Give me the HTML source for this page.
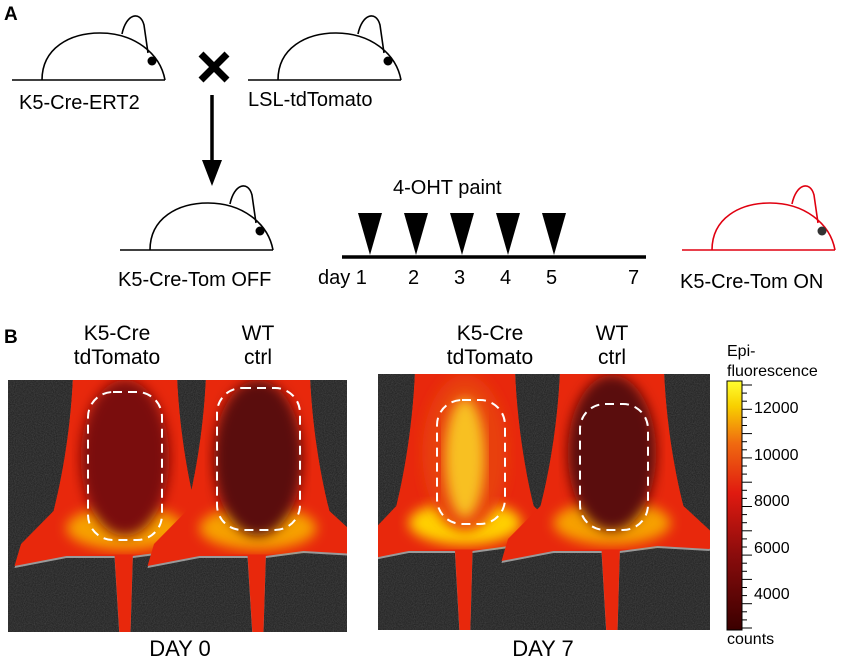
<!DOCTYPE html>
<html><head><meta charset="utf-8"><style>
body{margin:0;background:#fff;width:850px;height:660px;overflow:hidden}
svg text{font-family:"Liberation Sans",Arial,sans-serif}
</style></head><body>
<svg id="s" width="850" height="660" viewBox="0 0 850 660" xmlns="http://www.w3.org/2000/svg">
<defs>
<linearGradient id="cb" x1="0" y1="1" x2="0" y2="0">
<stop offset="0" stop-color="#3a0000"/><stop offset="0.3" stop-color="#8a0c0c"/>
<stop offset="0.55" stop-color="#e01a10"/><stop offset="0.75" stop-color="#f06a10"/>
<stop offset="0.9" stop-color="#f8d000"/><stop offset="1" stop-color="#ffff30"/></linearGradient>
<filter id="bl"><feGaussianBlur stdDeviation="6"/></filter>
<filter id="noise"><feTurbulence type="fractalNoise" baseFrequency="0.9" numOctaves="2"/><feColorMatrix type="matrix" values="0 0 0 0 0.16 0 0 0 0 0.16 0 0 0 0 0.16 0 0 0 0.5 0"/></filter>
<clipPath id="c1"><rect x="8" y="380" width="339" height="252"/></clipPath>
<clipPath id="c2"><rect x="378" y="374" width="332" height="256"/></clipPath>
</defs>
<text x="4" y="20" font-size="19" font-weight="bold">A</text>
<text x="4" y="343" font-size="19" font-weight="bold">B</text>
<g id="mice" fill="none" stroke="#000" stroke-width="1.6"></g>
<g stroke="#000" stroke-width="7"><line x1="201" y1="54" x2="227" y2="80"/><line x1="227" y1="54" x2="201" y2="80"/></g>
<line x1="212" y1="95" x2="212" y2="165" stroke="#000" stroke-width="3.5"/>
<polygon points="202,160 222,160 212,186" fill="#000"/>
<g font-size="20">
<text x="19" y="109">K5-Cre-ERT2</text>
<text x="248" y="106">LSL-tdTomato</text>
<text x="118" y="286">K5-Cre-Tom OFF</text>
<text x="680" y="288">K5-Cre-Tom ON</text>
<text x="393" y="194">4-OHT paint</text>
<text x="318" y="284">day 1</text>
<text x="408" y="284">2</text>
<text x="454" y="284">3</text>
<text x="500" y="284">4</text>
<text x="546" y="284">5</text>
<text x="628" y="284">7</text>
</g>
<line x1="342" y1="257" x2="646" y2="257" stroke="#000" stroke-width="3.5"/>
<g id="tri" fill="#000"></g>
<g font-size="21" text-anchor="middle">
<text x="117" y="340">K5-Cre</text><text x="117" y="364">tdTomato</text>
<text x="258" y="340">WT</text><text x="258" y="364">ctrl</text>
<text x="490" y="340">K5-Cre</text><text x="490" y="364">tdTomato</text>
<text x="612" y="340">WT</text><text x="612" y="364">ctrl</text>
<text x="180" y="656" font-size="22">DAY 0</text><text x="543" y="656" font-size="22">DAY 7</text>
</g>
<g clip-path="url(#c1)"><rect x="8" y="380" width="339" height="252" fill="#1c1c1c"/><rect x="8" y="380" width="339" height="252" filter="url(#noise)"/><g id="m1"></g></g>
<g clip-path="url(#c2)"><rect x="378" y="374" width="332" height="256" fill="#1c1c1c"/><rect x="378" y="374" width="332" height="256" filter="url(#noise)"/><g id="m2"></g></g>
<rect x="727" y="381" width="15" height="249" fill="url(#cb)" stroke="#000"/>
<g id="ticks" stroke="#000"></g>
<g font-size="16">
<text x="727" y="356">Epi-</text><text x="727" y="376">fluorescence</text>
<text x="754" y="413">12000</text><text x="754" y="460">10000</text><text x="754" y="506">8000</text>
<text x="754" y="553">6000</text><text x="754" y="599">4000</text><text x="727" y="644">counts</text>
</g>
</svg>
<script>
const NS="http://www.w3.org/2000/svg";
function el(p,t,a){const e=document.createElementNS(NS,t);for(const k in a)e.setAttribute(k,a[k]);p.appendChild(e);return e;}
const mice=document.getElementById('mice');
function mouse(x0,y,col){const g=el(mice,'g',{stroke:col});
el(g,'path',{d:`M${x0},${y} L${x0+153},${y} M${x0+30},${y} C${x0+30},${y-32} ${x0+58},${y-47} ${x0+88},${y-47} C${x0+122},${y-47} ${x0+148},${y-27} ${x0+153},${y}`});
el(g,'path',{d:`M${x0+110},${y-46} C${x0+114},${y-66} ${x0+128},${y-70} ${x0+132},${y-55} L${x0+136},${y-27}`});
el(g,'circle',{cx:x0+140,cy:y-19,r:4.5,fill:col==='#000'?'#000':'#333',stroke:'none'});}
mouse(12,80,'#000');mouse(248,80,'#000');mouse(120,250,'#000');mouse(682,250,'#e00010');
const tri=document.getElementById('tri');
[370,416,462,508,554].forEach(x=>el(tri,'polygon',{points:`${x-12},213 ${x+12},213 ${x},255`}));
const tk=document.getElementById('ticks');
for(let i=0;i<=30;i++){const y=385+i*8.1;el(tk,'line',{x1:742,x2:i%3==0?752:747,y1:y,y2:y});}
function rat(g,cx,w,top,bot,inner,bright,dash){
 const p=`M${cx-w*0.4},${top} L${cx+w*0.4},${top} C${cx+w*0.42},${top+60} ${cx+w*0.5},${top+110} ${cx+w*0.55},${top+135} L${cx+w*0.8},${top+165} L${cx+w*0.75},${top+178} L${cx+w*0.35},${top+175} L${cx+w*0.06},${top+180} L${cx+w*0.04},${bot} L${cx-w*0.04},${bot} L${cx-w*0.08},${top+180} L${cx-w*0.45},${top+180} L${cx-w*0.85},${top+190} L${cx-w*0.8},${top+168} L${cx-w*0.55},${top+135} C${cx-w*0.5},${top+110} ${cx-w*0.42},${top+60} ${cx-w*0.4},${top} Z`;
 el(g,'path',{d:p,fill:'#9a9a9a'});
 el(g,'path',{d:p,fill:'#e8280c',transform:`translate(0,-2)`});
 el(g,'ellipse',{cx:cx,cy:top+150,rx:w*0.45,ry:22,fill:bright?'#ffd000':'#f7a000',filter:'url(#bl)'});
 el(g,'ellipse',{cx:cx,cy:top+80,rx:w*0.34,ry:78,fill:inner,filter:'url(#bl)'});
 if(bright){el(g,'ellipse',{cx:cx,cy:top+85,rx:w*0.16,ry:60,fill:'#f8c020',filter:'url(#bl)'});}
 el(g,'rect',{x:dash[0],y:dash[1],width:dash[2],height:dash[3],rx:25,fill:'none',stroke:'#fff','stroke-width':2,'stroke-dasharray':'9 6'});
}
const m1=document.getElementById('m1'),m2=document.getElementById('m2');
rat(m1,125,130,378,642,'#7a1010',false,[88,392,74,148]);
rat(m1,258,130,378,642,'#5a0c0c',false,[217,388,83,142]);
rat(m2,465,125,373,642,'#e84010',true,[437,400,68,124]);
rat(m2,612,130,373,642,'#5a0c0c',false,[580,404,68,126]);
</script>
</body></html>
